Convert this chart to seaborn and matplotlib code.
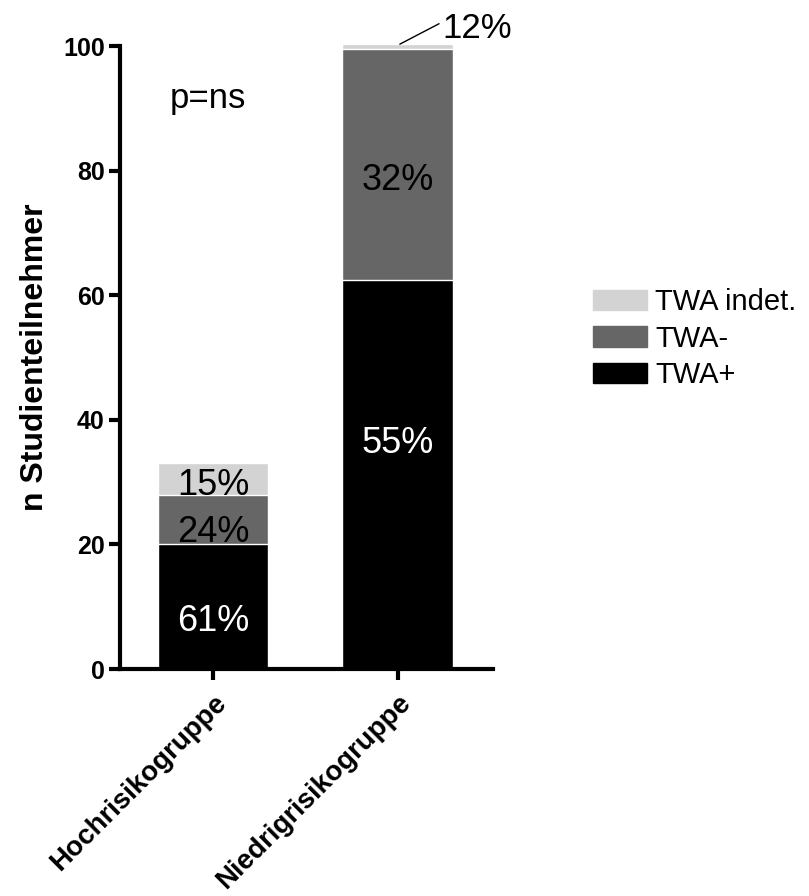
import matplotlib
matplotlib.use("Agg")
import pandas as pd
import matplotlib.pyplot as plt
import seaborn as sns
from matplotlib.patches import Patch

# Werte
gruppen = ["Hochrisikogruppe", "Niedrigrisikogruppe"]
twa_pos = [20, 62.5]
twa_neg = [8, 37]
twa_indet = [5, 0.8]
pct_pos = ["61%", "55%"]
pct_neg = ["24%", "32%"]
pct_indet = ["15%", "12%"]

data = pd.DataFrame({"Gruppe": gruppen, "TWA+": twa_pos,
                     "TWA-": twa_neg, "TWA indet.": twa_indet})
data["bis_neg"] = data["TWA+"] + data["TWA-"]
data["bis_indet"] = data["bis_neg"] + data["TWA indet."]

sns.set_style("ticks")
plt.rcParams['font.family'] = ['Liberation Sans', 'DejaVu Sans']
plt.rcParams.update({"text.color": "black", "axes.edgecolor": "black",
                     "xtick.color": "black", "ytick.color": "black",
                     "axes.labelcolor": "black"})

farben = {"TWA+": "#000000", "TWA-": "#666666", "TWA indet.": "#d3d3d3"}

fig = plt.figure(figsize=(8.09, 8.96), dpi=100)
ax = fig.add_axes([0.1483, 0.2533, 0.4611, 0.6953])

sns.barplot(data=data, x="Gruppe", y="bis_indet", color=farben["TWA indet."],
            width=0.6, saturation=1, errorbar=None, ax=ax, clip_on=False)
sns.barplot(data=data, x="Gruppe", y="bis_neg", color=farben["TWA-"],
            width=0.6, saturation=1, errorbar=None, ax=ax, clip_on=False)
sns.barplot(data=data, x="Gruppe", y="TWA+", color=farben["TWA+"],
            width=0.6, saturation=1, errorbar=None, ax=ax, clip_on=False)

ax.set_xlim(-0.503, 1.514)
ax.set_ylim(0, 100)
ax.set_yticks([0, 20, 40, 60, 80, 100])
sns.despine(ax=ax)
for s in ["left", "bottom"]:
    ax.spines[s].set_linewidth(3)
ax.tick_params(axis="both", width=3, length=8, labelsize=18)
ax.tick_params(axis="y", pad=3)
ax.tick_params(axis="x", pad=7)
for lab in ax.get_yticklabels():
    lab.set_fontweight("bold")
ax.set_xticks([0, 1])
ax.set_xticklabels(gruppen, rotation=45, ha="right", rotation_mode="anchor",
                   fontweight="bold", fontsize=20)
ax.set_xlabel("")
ax.set_ylabel("n Studienteilnehmer", fontsize=23, fontweight="bold", labelpad=9)

# Prozentangaben (Höhe der Beschriftung wie im Original)
gr = 26
ax.text(0, 7.6, pct_pos[0], color="white", fontsize=gr, ha="center", va="center")
ax.text(0, 21.9, pct_neg[0], fontsize=gr, ha="center", va="center")
ax.text(0, 29.4, pct_indet[0], fontsize=gr, ha="center", va="center")
ax.text(1, 36.2, pct_pos[1], color="white", fontsize=gr, ha="center", va="center")
ax.text(1, 78.4, pct_neg[1], fontsize=gr, ha="center", va="center")
ax.annotate(pct_indet[1], xy=(1.01, data["bis_indet"][1]), xytext=(1.24, 102.8),
            fontsize=25, ha="left", va="center", annotation_clip=False,
            arrowprops=dict(arrowstyle="-", color="black", lw=1, shrinkA=0, shrinkB=0,
                            relpos=(0, 0.7)))
ax.text(-0.03, 91.6, "p=ns", fontsize=25, ha="center", va="center")

handles = [Patch(color=farben[k], label=k) for k in ["TWA indet.", "TWA-", "TWA+"]]
fig.legend(handles=handles, loc="center left", bbox_to_anchor=(0.700, 0.622),
           frameon=False, fontsize=21, handlelength=1.85, handleheight=0.7,
           handletextpad=0.3, labelspacing=0.3)

fig.savefig("out.png", dpi=100)
